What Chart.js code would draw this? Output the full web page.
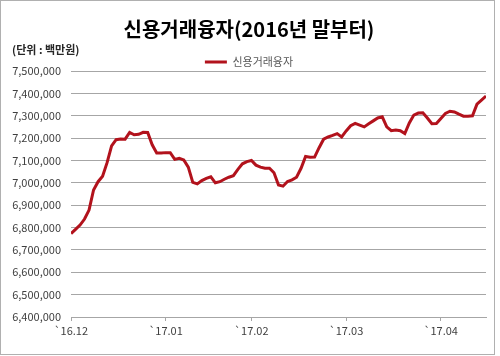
<!DOCTYPE html>
<html>
<head>
<meta charset="utf-8">
<script src="https://cdn.jsdelivr.net/npm/chart.js@4/dist/chart.umd.min.js"></script>
<style>
  html, body { margin: 0; padding: 0; background: #fff; }
  #wrap { width: 500px; height: 356px; position: relative; }
</style>
</head>
<body>
<div id="wrap"><canvas id="c" width="500" height="356"></canvas></div>
<script>
const seriesName = "신용거래융자";
const chartTitle = "신용거래융자(2016년 말부터)";
const unitLabel = "(단위 : 백만원)";
const monthLabels = ["`16.12", "`17.01", "`17.02", "`17.03", "`17.04"];
const monthIndex = [0, 21, 40, 61, 82];
const values = [
  6773000, 6792000, 6811000, 6838000, 6878000, 6968000, 7005000, 7029000, 7090000, 7165000,
  7193000, 7196000, 7195000, 7225000, 7215000, 7217000, 7226000, 7225000, 7170000, 7133000,
  7133000, 7135000, 7135000, 7105000, 7110000, 7102000, 7070000, 7002000, 6995000, 7010000,
  7020000, 7027000, 7000000, 7005000, 7016000, 7025000, 7032000, 7060000, 7085000, 7095000,
  7100000, 7079000, 7070000, 7065000, 7065000, 7045000, 6990000, 6985000, 7006000, 7013000,
  7025000, 7065000, 7118000, 7114000, 7115000, 7157000, 7195000, 7205000, 7212000, 7220000,
  7205000, 7232000, 7255000, 7266000, 7258000, 7250000, 7264000, 7277000, 7290000, 7295000,
  7250000, 7233000, 7236000, 7233000, 7220000, 7268000, 7303000, 7312000, 7313000, 7290000,
  7264000, 7265000, 7288000, 7310000, 7320000, 7317000, 7307000, 7298000, 7298000, 7300000,
  7352000, 7370000, 7388000
];
const yMin = 6400000, yMax = 7500000, yStep = 100000;

const FONT = '"Noto Sans CJK KR", "Noto Sans", sans-serif';
const GRID = '#a6a6a6';
const TXT = '#404040';
const LINE = '#b2121c';

const frame = {
  id: 'frame',
  beforeDraw(chart) {
    const ctx = chart.ctx;
    ctx.save();
    ctx.fillStyle = '#fff';
    ctx.fillRect(0, 0, chart.width, chart.height);
    ctx.restore();
  },
  afterDraw(chart) {
    const ctx = chart.ctx;
    ctx.save();
    ctx.strokeStyle = '#b0b0b0';
    ctx.lineWidth = 1;
    ctx.strokeRect(0.5, 0.5, 494, 354);
    ctx.fillStyle = '#262626';
    ctx.font = 'bold 11px ' + FONT;
    ctx.textBaseline = 'middle';
    ctx.textAlign = 'left';
    ctx.fillText(unitLabel, 12, 50);
    ctx.restore();
  }
};

new Chart(document.getElementById('c'), {
  type: 'line',
  data: {
    datasets: [{
      label: seriesName,
      data: values.map((v, i) => ({ x: i, y: v })),
      borderColor: LINE,
      backgroundColor: LINE,
      borderWidth: 3,
      pointRadius: 0,
      tension: 0,
      fill: false
    }]
  },
  options: {
    responsive: false,
    animation: false,
    devicePixelRatio: 1,
    layout: { padding: { left: 12, right: 14, top: 0, bottom: 0 } },
    plugins: {
      title: {
        display: true,
        text: chartTitle,
        color: '#000',
        font: { family: FONT, size: 20, weight: 'bold' },
        padding: { top: 17, bottom: 11.5 }
      },
      legend: {
        display: true,
        position: 'top',
        maxHeight: 18.5,
        labels: {
          usePointStyle: true,
          pointStyle: 'line',
          pointStyleWidth: 22,
          padding: 4,
          color: '#595959',
          font: { family: FONT, size: 11 }
        }
      },
      tooltip: { enabled: false }
    },
    scales: {
      x: {
        type: 'linear',
        min: 0,
        max: values.length - 1,
        afterBuildTicks: s => { s.ticks = monthIndex.map(v => ({ value: v })); },
        afterFit: s => { s.height = 39; },
        ticks: {
          autoSkip: false,
          maxRotation: 0,
          padding: 3,
          color: TXT,
          font: { family: FONT, size: 11 },
          callback: v => { const k = monthIndex.indexOf(v); return k >= 0 ? monthLabels[k] : ''; }
        },
        grid: { drawOnChartArea: false, drawTicks: true, tickLength: 4, color: GRID },
        border: { display: true, color: GRID, width: 1 }
      },
      y: {
        min: yMin,
        max: yMax,
        afterFit: s => { s.width = 59; },
        ticks: {
          stepSize: yStep,
          padding: 10,
          color: TXT,
          font: { family: FONT, size: 11 },
          callback: v => Number(v).toLocaleString('en-US')
        },
        grid: { color: GRID, lineWidth: 1, drawTicks: false },
        border: { display: false }
      }
    }
  },
  plugins: [frame]
});
</script>
</body>
</html>
